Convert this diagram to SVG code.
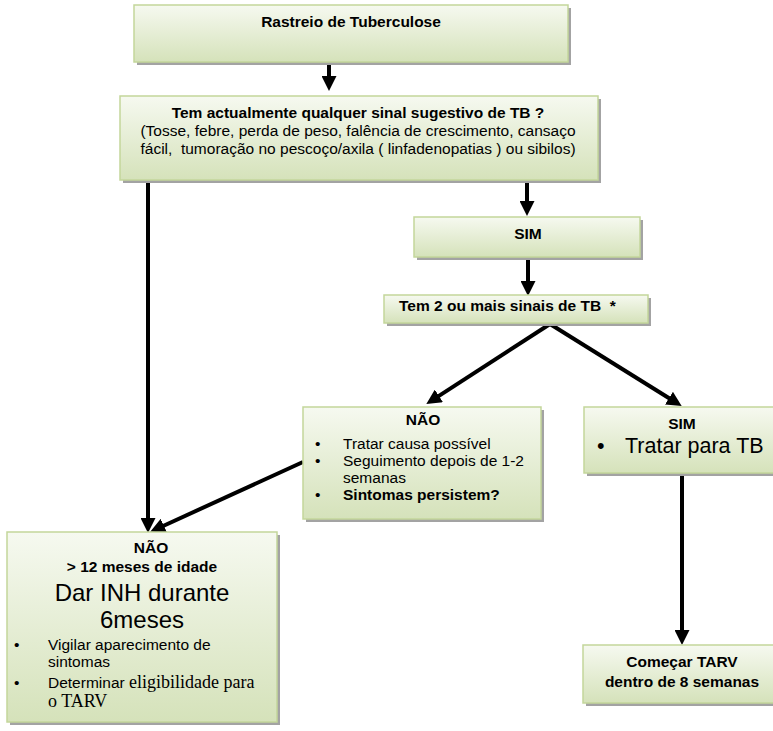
<svg xmlns="http://www.w3.org/2000/svg" width="773" height="731" viewBox="0 0 773 731">
<defs>
<linearGradient id="g" x1="0" y1="0" x2="0" y2="1">
<stop offset="0" stop-color="#f6f9f0"/>
<stop offset="1" stop-color="#d5e2ba"/>
</linearGradient>
<marker id="ah" markerUnits="userSpaceOnUse" markerWidth="15" markerHeight="15" viewBox="0 0 12 12" refX="4" refY="6" orient="auto">
<path d="M0,0 L12,6 L0,12 z" fill="#000"/>
</marker>
</defs>
<style>
.sh{fill:#a3a3a3;}
.bx{fill:url(#g);stroke:#c3d69b;stroke-width:1.5;}
text{font-family:"Liberation Sans",Arial,sans-serif;font-size:15.5px;fill:#000;}
.b{font-weight:bold;}
.c{text-anchor:middle;}
.pre{white-space:pre;}
.big{font-size:24px;}
.big2{font-size:21.5px;}
.ser{font-family:"Liberation Serif","Times New Roman",serif;font-size:18px;}
.ar{stroke:#000;stroke-width:4;fill:none;marker-end:url(#ah);}
</style>
<g id="connectors">
<line class="ar" x1="329" y1="62" x2="329" y2="81"/>
<line class="ar" x1="148" y1="180" x2="148" y2="523"/>
<line class="ar" x1="527" y1="180" x2="527" y2="206"/>
<line class="ar" x1="528" y1="257" x2="528" y2="286"/>
<line class="ar" x1="550" y1="324" x2="434.7" y2="398.6"/>
<line class="ar" x1="550" y1="324" x2="673.2" y2="400.8"/>
<line class="ar" x1="303" y1="462" x2="159.3" y2="527.7"/>
<line class="ar" x1="682" y1="473" x2="682" y2="635"/>
</g>
<g id="n1">
<rect class="sh" x="137" y="8" width="434" height="57"/>
<rect class="bx" x="134" y="5" width="434" height="57"/>
<text class="b c" x="351" y="27">Rastreio de Tuberculose</text>
</g>
<g id="n2">
<rect class="sh" x="123" y="99" width="478" height="84"/>
<rect class="bx" x="120" y="96" width="478" height="84"/>
<text class="b c" x="358" y="118">Tem actualmente qualquer sinal sugestivo de TB ?</text>
<text class="c" x="358" y="136">(Tosse, febre, perda de peso, falência de crescimento, cansaço</text>
<text class="c pre" x="358" y="154" xml:space="preserve">fácil,  tumoração no pescoço/axila ( linfadenopatias ) ou sibilos)</text>
</g>
<g id="n3">
<rect class="sh" x="417" y="220" width="226" height="40"/>
<rect class="bx" x="414" y="217" width="226" height="40"/>
<text class="b c" x="528" y="239">SIM</text>
</g>
<g id="n4">
<rect class="sh" x="387" y="298" width="264" height="28"/>
<rect class="bx" x="384" y="295" width="264" height="28"/>
<text class="b pre" x="399" y="311" xml:space="preserve">Tem 2 ou mais sinais de TB  *</text>
</g>
<g id="n5">
<rect class="sh" x="306" y="410" width="238" height="112"/>
<rect class="bx" x="303" y="407" width="238" height="112"/>
<text class="b c" x="423" y="425">NÃO</text>
<text x="315" y="449">•</text><text x="343" y="449">Tratar causa possível</text>
<text x="315" y="466">•</text><text x="343" y="466">Seguimento depois de 1-2</text>
<text x="343" y="483">semanas</text>
<text x="315" y="500">•</text><text class="b" x="343" y="500">Sintomas persistem?</text>
</g>
<g id="n6">
<rect class="sh" x="587" y="410" width="190" height="66"/>
<rect class="bx" x="584" y="407" width="192" height="66"/>
<text class="b c" x="682" y="429">SIM</text>
<text class="big2" x="597" y="453">•</text><text class="big2" x="625" y="453">Tratar para TB</text>
</g>
<g id="n7">
<rect class="sh" x="10" y="535" width="270" height="190"/>
<rect class="bx" x="7" y="532" width="270" height="190"/>
<text class="b c" x="151" y="553">NÃO</text>
<text class="b c" x="142" y="572">&gt; 12 meses de idade</text>
<text class="big c" x="142" y="601">Dar INH durante</text>
<text class="big c" x="142" y="628">6meses</text>
<text x="14" y="650">•</text><text x="48" y="650">Vigilar aparecimento de</text>
<text x="48" y="667">sintomas</text>
<text x="14" y="688">•</text><text x="48" y="688">Determinar <tspan class="ser">eligibilidade para</tspan></text>
<text class="ser" x="48" y="707">o TARV</text>
</g>
<g id="n8">
<rect class="sh" x="586" y="648" width="190" height="58"/>
<rect class="bx" x="583" y="645" width="192" height="58"/>
<text class="b c" x="682" y="667">Começar TARV</text>
<text class="b c" x="682" y="687">dentro de 8 semanas</text>
</g>
</svg>
